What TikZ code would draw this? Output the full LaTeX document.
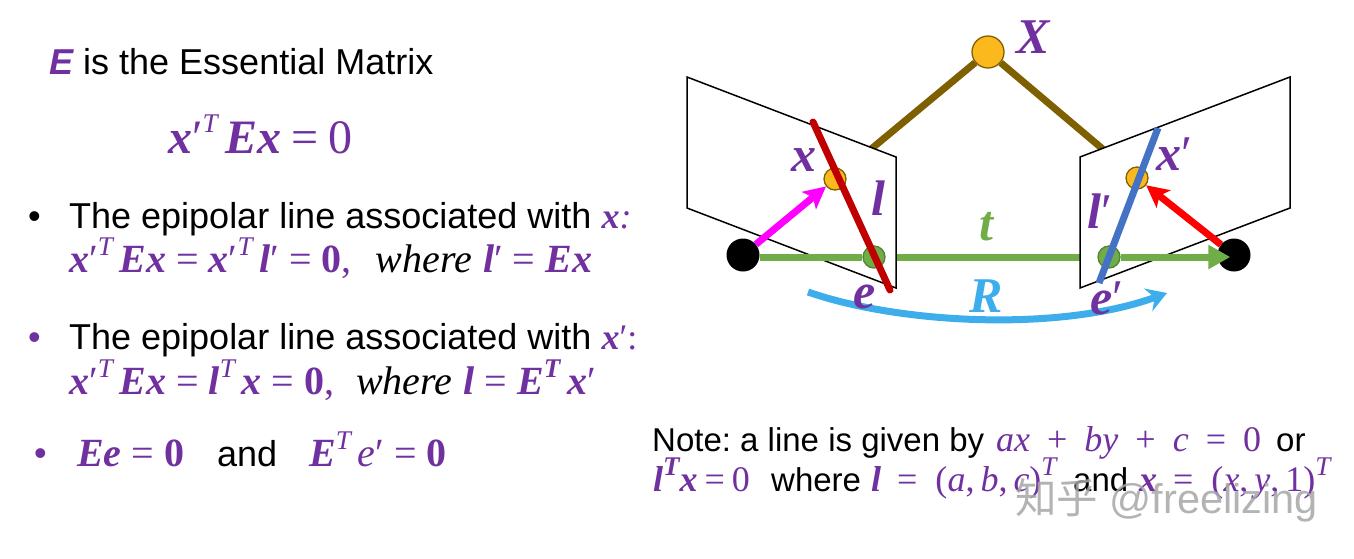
\documentclass[tikz,border=0pt]{standalone}
\usepackage{fontspec}
\setmainfont{Liberation Sans}
\newfontfamily\eqfont{Liberation Serif}
\newfontfamily\cjkfont{Noto Sans CJK SC}
\usepackage{xcolor}
\definecolor{eqpurple}{HTML}{7030A0}
\definecolor{rayblue}{HTML}{3DADEB}
\definecolor{raybrown}{HTML}{7F6000}
\definecolor{basegreen}{HTML}{70AD47}
\definecolor{baseedge}{HTML}{548235}
\definecolor{ptgold}{HTML}{FBB91D}
\definecolor{linered}{HTML}{C00000}
\definecolor{lineblue}{HTML}{4472C4}
\definecolor{raymagenta}{HTML}{FF00FF}
\definecolor{rayred}{HTML}{FF0000}
\newcommand{\bv}[1]{{\eqfont\bfseries\itshape #1}}
\newcommand{\iv}[1]{{\eqfont\itshape #1}}
\newcommand{\rv}[1]{{\eqfont #1}}
\newcommand{\bz}{{\eqfont\bfseries 0}}
\newcommand{\eqs}{\hspace{10pt}\rv{=}\hspace{10pt}}
\newcommand{\sups}[1]{\raisebox{.42em}{\fontsize{27}{27}\selectfont\eqfont\itshape #1}}
\newcommand{\bsups}[1]{\raisebox{.42em}{\fontsize{27}{27}\selectfont\eqfont\bfseries\itshape #1}}
\usepackage{tikz}
\usetikzlibrary{arrows.meta, positioning}

\tikzset{
  txt/.style={anchor=base west, inner sep=0pt, font=\fontsize{36}{42}\selectfont},
  note/.style={anchor=base west, inner sep=0pt, font=\fontsize{33}{40}\selectfont\frenchspacing},
  noteq/.style={note, text=eqpurple, font=\fontsize{36}{42}\selectfont},
  eq/.style={anchor=base west, inner sep=0pt, text=eqpurple, font=\fontsize{40}{46}\selectfont},
  lbl/.style={inner sep=0pt, text=eqpurple, font=\fontsize{50}{56}\selectfont},
  plane/.style={draw=black, fill=white, line width=1.5pt},
  bigpt/.style={circle, draw=raybrown, fill=ptgold, line width=1.3pt, minimum size=32pt, inner sep=0pt},
  imgpt/.style={circle, draw=raybrown, fill=ptgold, line width=1.3pt, minimum size=22pt, inner sep=0pt},
  epipt/.style={circle, draw=baseedge, fill=basegreen, line width=1.3pt, minimum size=22pt, inner sep=0pt},
  cam/.style={circle, fill=black, minimum size=33pt, inner sep=0pt},
  ray/.style={line width=7pt}
}

\begin{document}
\begin{tikzpicture}[x=1pt, y=-1pt]
  \useasboundingbox (0, 0) rectangle (1354, 558);

  % --- Left column ---
  \node[txt] (title) at (49, 74) {\textcolor{eqpurple}{\bfseries\itshape E} is the Essential Matrix};
  \node[eq, font=\fontsize{48}{52}\selectfont] (epi) at (168, 153) {\bv{x}\rv{′}\sups{T}\,\bv{Ex}\eqs\rv{0}};

  \node[txt] (dotA) at (28, 228) {•};
  \node[txt] (lineA) at (69, 228) {The epipolar line associated with \textcolor{eqpurple}{\bv{x}\iv{:}}};
  \node[eq] (eqA) at (69, 272) {\bv{x}\rv{′}\sups{T}\,\bv{Ex}\eqs\bv{x}\rv{′}\sups{T}\,\bv{l}\rv{′}\eqs\bz\rv{,}\hspace{24pt}\textcolor{black}{\iv{where}} \bv{l}\rv{′}\eqs\bv{Ex}};

  \node[txt, text=eqpurple] (dotB) at (28, 349) {•};
  \node[txt] (lineB) at (69, 349) {The epipolar line associated with \textcolor{eqpurple}{\bv{x}\rv{′}\rv{:}}};
  \node[eq] (eqB) at (69, 394) {\bv{x}\rv{′}\sups{T}\,\bv{Ex}\eqs\bv{l}\sups{T}\,\bv{x}\eqs\bz\rv{,}\hspace{22pt}\textcolor{black}{\iv{where}} \bv{l}\eqs\bv{E}\bsups{T}\,\bv{x}\rv{′}};

  \node[txt, text=eqpurple] (dotC) at (34, 465) {•};
  \node[eq] (eqC) at (77, 466) {\bv{Ee}\eqs\bz};
  \node[txt] (andC) at (217, 466) {and};
  \node[eq] (eqD) at (309, 466) {\bv{E}\sups{T}\,\iv{e}\rv{′}\eqs\bz};

  % --- Rays and baseline, the planes hide part of them ---
  \node[bigpt] (ptX) at (988, 52) {};
  \coordinate (ptxc) at (835, 179);
  \coordinate (ptxpc) at (1137, 178);
  \node[epipt] (ptE) at (874, 257) {};
  \node[epipt] (ptEp) at (1109, 257) {};
  \draw[ray, raybrown] (ptX) -- (ptxc);
  \draw[ray, raybrown] (ptX) -- (ptxpc);
  \draw[ray, basegreen] (ptE) -- (ptEp);

  % Image planes
  \draw[plane] (687, 77) -- (896, 157) -- (896, 288) -- (687, 208) -- cycle;
  \draw[plane] (1290, 77) -- (1080, 157) -- (1080, 288) -- (1290, 208) -- cycle;

  % Camera centres and points
  \node[cam] (camL) at (743, 255) {};
  \node[cam] (camR) at (1234, 255) {};
  \node[imgpt] (ptx) at (ptxc) {};
  \node[imgpt] (ptxp) at (ptxpc) {};
  \node[epipt] (ptEa) at (ptE) {};
  \node[epipt] (ptEpa) at (ptEp) {};

  \draw[ray, basegreen] (camL.east |- ptE) -- (ptEa);
  \draw[ray, basegreen, -{Triangle[length=22pt, width=23pt]}, shorten >=-13pt] (ptEpa) -- (camR.west |- ptEpa);
  \draw[ray, raymagenta, -{Stealth[length=22pt, width=22pt, inset=5pt]}] (camL) -- (ptx);
  \draw[ray, rayred, -{Stealth[length=22pt, width=22pt, inset=5pt]}] (camR) -- (ptxp);

  % Epipolar lines
  \coordinate (redA) at (813, 122);
  \coordinate (redB) at (890, 290);
  \coordinate (blueA) at (1158, 128);
  \coordinate (blueB) at (1099, 283);
  \draw[ray, linered, line cap=round] (redA) -- (redB);
  \draw[ray, lineblue] (blueA) -- (blueB);

  % Rotation arc
  \coordinate (arcL) at (808, 292);
  \coordinate (arcR) at (1167, 293);
  \draw[ray, rayblue, -{Stealth[length=20pt, width=24pt, inset=7pt]}] (arcL) .. controls (900, 324) and (1060, 332) .. (arcR);

  % Labels
  \node[lbl] (lblX) at (1033, 37) {\bv{X}};
  \node[lbl] (lblx) at (804, 160) {\bv{x}};
  \node[lbl] (lbll) at (878, 198) {\bv{l}};
  \node[lbl, text=basegreen] (lblt) at (986, 227) {\bv{t}};
  \node[lbl, text=rayblue] (lblR) at (986, 296) {\bv{R}};
  \node[lbl] (lble) at (865, 297) {\bv{e}};
  \node[lbl] (lblep) at (1107, 298) {\bv{e}\rv{′}};
  \node[lbl] (lbllp) at (1100, 211) {\bv{l}\rv{′}};
  \node[lbl] (lblxp) at (1174, 154) {\bv{x}\rv{′}};

  % --- Note ---
  \node[note] (noteA) at (652, 451) {Note: a line is given by};
  \node[noteq] (noteEq) at (996, 451) {\iv{ax}\hspace{17pt}\rv{+}\hspace{17pt}\iv{by}\hspace{17pt}\rv{+}\hspace{17pt}\iv{c}\hspace{17pt}\rv{=}\hspace{17pt}\rv{0}};
  \node[note] (noteOr) at (1276, 451) {or};
  \node[noteq] (noteB) at (653, 491) {\bv{l}\bsups{T}\bv{x}\hspace{7pt}\rv{=}\hspace{7pt}\rv{0}};
  \node[note] (noteWhere) at (771, 491) {where};
  \node[noteq] (noteL) at (871, 491) {\bv{l}\hspace{16pt}\rv{=}\hspace{18pt}\rv{(}\iv{a}\rv{,}\,\iv{b}\rv{,}\,\iv{c}\rv{)}\sups{T}};
  \node[note] (noteAnd) at (1073, 491) {and};
  \node[noteq] (noteX) at (1139, 491) {\bv{x}\hspace{16pt}\rv{=}\hspace{18pt}\rv{(}\iv{x}\rv{,}\,\iv{y}\rv{,}\,\rv{1)}\sups{T}};

  % Watermark
  \node[anchor=base west, inner sep=0pt, text=gray!70, opacity=0.85, font=\fontsize{41.5}{46}\selectfont] (mark) at (1015, 513) {{\cjkfont 知乎} @freelizing};
\end{tikzpicture}
\end{document}
